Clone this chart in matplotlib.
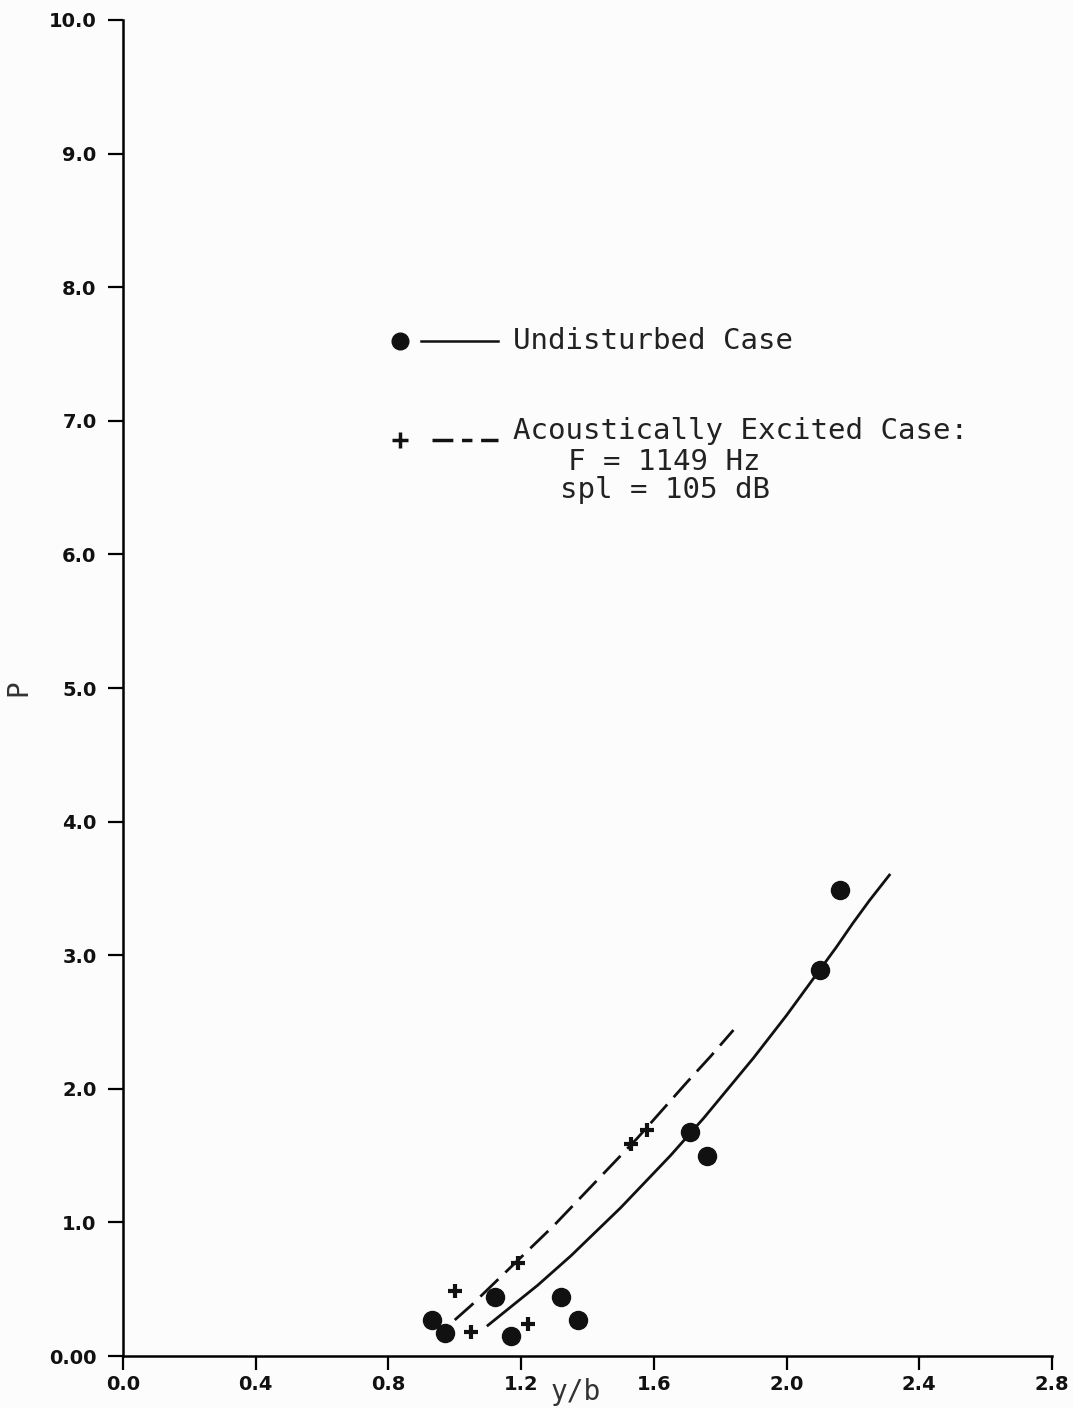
import matplotlib
matplotlib.use("Agg")
import matplotlib.pyplot as plt

# Undisturbed case (measured points)
undist_x = [0.93, 0.97, 1.12, 1.17, 1.32, 1.37, 1.71, 1.76, 2.10, 2.16]
undist_p = [0.27, 0.17, 0.44, 0.15, 0.44, 0.27, 1.68, 1.50, 2.89, 3.49]

# Acoustically excited case (measured points)
excit_x = [1.00, 1.05, 1.19, 1.22, 1.53, 1.58]
excit_p = [0.49, 0.18, 0.70, 0.24, 1.59, 1.69]

# faired curves
undist_curve_x = [1.10, 1.15, 1.20, 1.25, 1.30, 1.35, 1.40, 1.45, 1.50, 1.55, 1.60, 1.65,
                  1.70, 1.75, 1.80, 1.85, 1.90, 1.95, 2.00, 2.05, 2.10, 2.15, 2.20, 2.25, 2.31]
undist_curve_p = [0.23, 0.33, 0.43, 0.53, 0.64, 0.75, 0.87, 0.99, 1.11, 1.24, 1.37, 1.50,
                  1.64, 1.78, 1.93, 2.08, 2.23, 2.39, 2.55, 2.72, 2.89, 3.06, 3.24, 3.41, 3.60]
excit_curve_x = [1.00, 1.05, 1.10, 1.15, 1.20, 1.25, 1.30, 1.35, 1.40, 1.45, 1.50, 1.55,
                 1.60, 1.65, 1.70, 1.77, 1.84]
excit_curve_p = [0.27, 0.38, 0.50, 0.62, 0.74, 0.86, 0.98, 1.11, 1.24, 1.37, 1.50, 1.63,
                 1.77, 1.91, 2.05, 2.24, 2.44]

x_ticks = [0.0, 0.4, 0.8, 1.2, 1.6, 2.0, 2.4, 2.8]
x_tick_labels = ["0.0", "0.4", "0.8", "1.2", "1.6", "2.0", "2.4", "2.8"]
y_ticks = [0, 1, 2, 3, 4, 5, 6, 7, 8, 9, 10]
y_tick_labels = ["0.00", "1.0", "2.0", "3.0", "4.0", "5.0", "6.0", "7.0", "8.0", "9.0", "10.0"]

mono = "DejaVu Sans Mono"
ink = "#111111"

fig = plt.figure(figsize=(10.73, 14.08), dpi=100, facecolor="#fcfcfc")
ax = fig.add_axes([0.1146, 0.0369, 0.8658, 0.9489])
ax.set_facecolor("#fcfcfc")

ax.plot(undist_curve_x, undist_curve_p, color=ink, lw=2.0)
ax.plot(excit_curve_x, excit_curve_p, color=ink, lw=2.0, dashes=(9, 3.5))
ax.plot(undist_x, undist_p, "o", color=ink, ms=13, mec=ink)
ax.plot(excit_x, excit_p, "+", color=ink, ms=10, mew=3)

ax.set_xlim(0, 2.8)
ax.set_ylim(0, 10)
ax.set_xticks(x_ticks)
ax.set_xticklabels(x_tick_labels)
ax.set_yticks(y_ticks)
ax.set_yticklabels(y_tick_labels)
for lbl in ax.get_xticklabels() + ax.get_yticklabels():
    lbl.set_fontweight("bold")
    lbl.set_fontsize(14)
    lbl.set_color(ink)

ax.spines["top"].set_visible(False)
ax.spines["right"].set_visible(False)
ax.spines["left"].set_linewidth(1.8)
ax.spines["bottom"].set_linewidth(1.8)
ax.tick_params(axis="y", direction="out", length=11, width=1.6, pad=8)
ax.tick_params(axis="x", direction="out", length=10, width=1.6, pad=4)

ax.set_xlabel("y/b", family=mono, fontsize=20, color="#333333")
ax.xaxis.set_label_coords(0.487, -0.027)
ax.xaxis.label.set_va("center")
ax.set_ylabel("P", family=mono, fontsize=20, color="#333333")
ax.yaxis.set_label_coords(-0.113, 0.5)
ax.yaxis.label.set_va("center")

# hand-drawn key
t = ax.transAxes
ax.plot([0.298], [0.760], "o", color=ink, ms=12, transform=t, clip_on=False)
ax.plot([0.321, 0.404], [0.760, 0.760], color=ink, lw=1.8, transform=t)
ax.text(0.420, 0.760, "Undisturbed Case", family=mono, fontsize=21,
        color="#222222", va="center", ha="left", transform=t)

ax.plot([0.298], [0.686], "+", color=ink, ms=11, mew=2.5, transform=t)
ax.plot([0.333, 0.404], [0.686, 0.686], color=ink, lw=2.5, dashes=(6, 2.5, 3, 2.5), transform=t)
ax.text(0.420, 0.692, "Acoustically Excited Case:", family=mono, fontsize=21,
        color="#222222", va="center", ha="left", transform=t)
ax.text(0.583, 0.669, "F = 1149 Hz", family=mono, fontsize=21,
        color="#222222", va="center", ha="center", transform=t)
ax.text(0.583, 0.648, "spl = 105 dB", family=mono, fontsize=21,
        color="#222222", va="center", ha="center", transform=t)

fig.savefig("out.png", dpi=100, facecolor=fig.get_facecolor())
